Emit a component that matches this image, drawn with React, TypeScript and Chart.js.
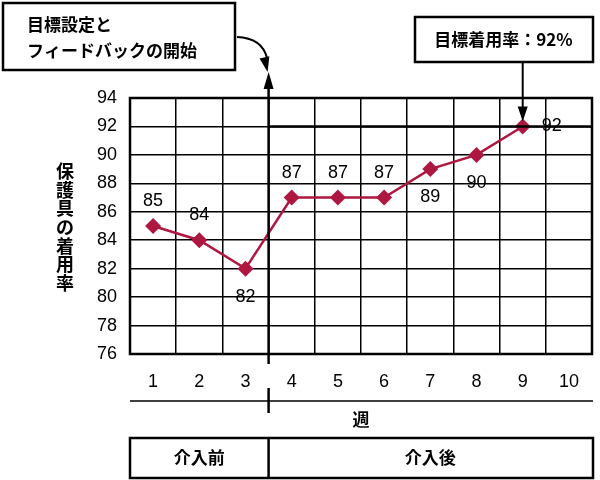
import React, { useEffect, useRef } from 'react';
import { Chart, registerables } from 'chart.js';

Chart.register(...registerables);

const weeks = ['1', '2', '3', '4', '5', '6', '7', '8', '9', '10'];
const usageRate = [85, 84, 82, 87, 87, 87, 89, 90, 92, null];
const yMin = 76;
const yMax = 94;
const yStep = 2;
const targetRate = 92;
const interventionStart = 3; // 介入は3週と4週の間
const phases = ['介入前', '介入後'];
const yTitle = '保護具の着用率';
const xTitle = '週';
const startNote = ['目標設定と', 'フィードバックの開始'];
const targetNote = '目標着用率：92%';

const JP = '"Noto Sans CJK JP", "Noto Sans", sans-serif';
const NUM = '"Liberation Sans", Arial, sans-serif';
const RED = '#AE173F';

function arrowHead(ctx: CanvasRenderingContext2D, x: number, y: number, angle: number, len: number, half: number) {
    ctx.save();
    ctx.translate(x, y);
    ctx.rotate(angle);
    ctx.beginPath();
    ctx.moveTo(0, 0);
    ctx.lineTo(-len, -half);
    ctx.lineTo(-len, half);
    ctx.closePath();
    ctx.fill();
    ctx.restore();
}

const decorations = {
    id: 'decorations',
    afterDraw(chart: any) {
        const { ctx, chartArea: a, scales } = chart;
        const x = scales.x;
        const y = scales.y;
        const divX = (x.getPixelForValue(interventionStart - 1) + x.getPixelForValue(interventionStart)) / 2;
        ctx.save();
        ctx.strokeStyle = '#000';
        ctx.fillStyle = '#000';

        // 枠
        ctx.lineWidth = 2.5;
        ctx.strokeRect(a.left, a.top, a.right - a.left, a.bottom - a.top);

        // 目標線
        const ty = y.getPixelForValue(targetRate);
        ctx.beginPath();
        ctx.moveTo(divX, ty);
        ctx.lineTo(a.right, ty);
        ctx.stroke();

        // 介入区切り線
        ctx.beginPath();
        ctx.moveTo(divX, 88);
        ctx.lineTo(divX, a.bottom + 10);
        ctx.stroke();
        arrowHead(ctx, divX, 72, -Math.PI / 2, 17, 5);

        // 左上の注記
        ctx.lineWidth = 2.5;
        ctx.strokeRect(3, 3, 232, 67);
        ctx.font = `bold 17px ${JP}`;
        ctx.textAlign = 'left';
        ctx.textBaseline = 'middle';
        startNote.forEach((t, i) => ctx.fillText(t, 27, 25 + i * 26));

        // 曲がった矢印
        ctx.lineWidth = 2;
        ctx.beginPath();
        ctx.moveTo(237, 37);
        ctx.quadraticCurveTo(262, 38, 267, 58);
        ctx.stroke();
        arrowHead(ctx, divX - 1, 72, Math.atan2(14, 3), 15, 5);

        // 右上の注記
        const px = x.getPixelForValue(8);
        const py = y.getPixelForValue(usageRate[8] as number);
        ctx.lineWidth = 2.5;
        ctx.strokeRect(415, 17, a.right + 1 - 415, 45);
        ctx.textAlign = 'center';
        ctx.fillText(targetNote, (415 + a.right) / 2, 40);
        ctx.lineWidth = 2;
        ctx.beginPath();
        ctx.moveTo(px, 62);
        ctx.lineTo(px, py - 14);
        ctx.stroke();
        arrowHead(ctx, px, py - 5, Math.PI / 2, 15, 5);

        // Y軸タイトル（縦書き）
        ctx.font = `bold 18px ${JP}`;
        Array.from(yTitle).forEach((c, i) => ctx.fillText(c, 65, 171 + i * 18.7));

        // 下部の軸線と週
        ctx.lineWidth = 1.5;
        ctx.beginPath();
        ctx.moveTo(a.left, 401);
        ctx.lineTo(a.right + 1, 401);
        ctx.stroke();
        ctx.lineWidth = 2.5;
        ctx.beginPath();
        ctx.moveTo(divX, 388);
        ctx.lineTo(divX, 413);
        ctx.stroke();
        ctx.font = `bold 17px ${JP}`;
        ctx.fillText(xTitle, (a.left + a.right) / 2, 420);

        // 介入前／後の枠
        ctx.strokeRect(a.left, 438, a.right + 1 - a.left, 40);
        ctx.beginPath();
        ctx.moveTo(divX, 438);
        ctx.lineTo(divX, 478);
        ctx.stroke();
        ctx.fillText(phases[0], (a.left + divX) / 2, 458);
        ctx.fillText(phases[1], (divX + a.right) / 2, 458);

        // データラベル
        const meta = chart.getDatasetMeta(0);
        ctx.font = `18px ${NUM}`;
        const side = ['up', 'up', 'down', 'up', 'up', 'up', 'down', 'down', 'right'];
        meta.data.forEach((pt: any, i: number) => {
            const v = usageRate[i];
            if (v == null) return;
            let lx = pt.x;
            let ly = pt.y;
            if (side[i] === 'up') ly -= 25;
            else if (side[i] === 'down') ly += 28;
            else lx += 29;
            ctx.fillText(String(v), lx, ly);
        });
        ctx.restore();
    },
};

const App: React.FC = () => {
    const canvasRef = useRef<HTMLCanvasElement | null>(null);

    useEffect(() => {
        if (!canvasRef.current) return;
        const chart = new Chart(canvasRef.current, {
            type: 'line',
            data: {
                labels: weeks,
                datasets: [{
                    data: usageRate,
                    borderColor: RED,
                    backgroundColor: RED,
                    borderWidth: 2.5,
                    pointStyle: 'rectRot',
                    pointRadius: 8,
                    pointBackgroundColor: RED,
                    pointBorderColor: RED,
                    pointBorderWidth: 0,
                    tension: 0,
                }],
            },
            options: {
                responsive: false,
                animation: false,
                layout: { padding: { top: 98, right: 4, left: 0, bottom: 0 } },
                plugins: {
                    legend: { display: false },
                    tooltip: { enabled: false },
                },
                scales: {
                    x: {
                        type: 'category',
                        offset: true,
                        grid: { color: '#000', lineWidth: 1.5, drawTicks: false, offset: true },
                        border: { display: false },
                        ticks: { color: '#000', font: { size: 18, family: NUM }, padding: 17 },
                        afterFit: (s: any) => { s.height = 126; },
                    },
                    y: {
                        min: yMin,
                        max: yMax,
                        grid: { color: '#000', lineWidth: 1.5, drawTicks: false },
                        border: { display: false },
                        ticks: { stepSize: yStep, color: '#000', font: { size: 18, family: NUM }, padding: 13 },
                        afterFit: (s: any) => { s.width = 130; },
                    },
                },
            },
            plugins: [decorations],
        });
        return () => chart.destroy();
    }, []);

    return (
        <div style={{ position: 'fixed', left: 0, top: 0, width: 600, height: 480, background: '#fff' }}>
            <canvas ref={canvasRef} width={600} height={480}></canvas>
        </div>
    );
};

export default App;
